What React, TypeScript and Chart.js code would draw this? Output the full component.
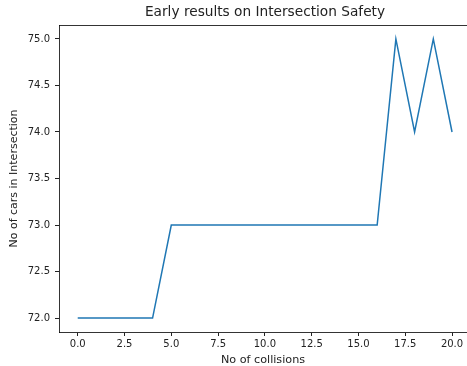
import React, { useEffect, useRef } from "react";
import { Chart, registerables } from "chart.js";

Chart.register(...registerables);

const xValues = [0, 1, 2, 3, 4, 5, 6, 7, 8, 9, 10, 11, 12, 13, 14, 15, 16, 17, 18, 19, 20];
const yValues = [72, 72, 72, 72, 72, 73, 73, 73, 73, 73, 73, 73, 73, 73, 73, 73, 73, 75, 74, 75, 74];
const xTicks = [0, 2.5, 5, 7.5, 10, 12.5, 15, 17.5, 20];
const yTicks = [72, 72.5, 73, 73.5, 74, 74.5, 75];
const titleText = "Early results on Intersection Safety";
const xLabel = "No of collisions";
const yLabel = "No of cars in Intersection";

const FONT = "'DejaVu Sans', sans-serif";

export default function App() {
  const ref = useRef<HTMLCanvasElement>(null);
  useEffect(() => {
    document.body.style.margin = "0";
    document.body.style.overflow = "hidden";
    const framePlugin = {
      id: "frame",
      afterDraw(chart: any) {
        const { ctx, chartArea } = chart;
        ctx.save();
        ctx.strokeStyle = "#000";
        ctx.lineWidth = 0.8;
        ctx.beginPath();
        ctx.moveTo(chartArea.left, chartArea.top + 0.5);
        ctx.lineTo(chartArea.right, chartArea.top + 0.5);
        ctx.stroke();
        ctx.fillStyle = "#222";
        ctx.font = `13.7px ${FONT}`;
        ctx.textAlign = "center";
        ctx.textBaseline = "middle";
        ctx.fillText(titleText, (chartArea.left + 471) / 2, 12.5);
        ctx.restore();
      },
    };
    const chart = new Chart(ref.current!, {
      type: "line",
      data: {
        datasets: [
          {
            data: xValues.map((x, i) => ({ x, y: yValues[i] })),
            borderColor: "#1f77b4",
            borderWidth: 1.5,
            pointRadius: 0,
            tension: 0,
            fill: false,
          },
        ],
      },
      options: {
        animation: false,
        responsive: false,
        layout: { padding: { top: 25, right: 0, left: 0, bottom: 0 } },
        plugins: { legend: { display: false }, tooltip: { enabled: false } },
        scales: {
          x: {
            type: "linear",
            min: -1,
            max: 20.8,
            afterBuildTicks: (s: any) => {
              s.ticks = xTicks.map((v) => ({ value: v }));
            },
            afterFit: (s: any) => {
              s.height = 34;
            },
            grid: { drawOnChartArea: false, drawTicks: true, tickLength: 4, color: "#222" },
            border: { display: true, color: "#000", width: 0.8 },
            ticks: {
              color: "#222",
              font: { family: FONT, size: 10 },
              padding: 2,
              maxRotation: 0,
              autoSkip: false,
              callback: (v: any) => Number(v).toFixed(1),
            },
            title: {
              display: true,
              text: xLabel,
              color: "#222",
              font: { family: FONT, size: 11.2, lineHeight: 1 },
              padding: { top: 0, bottom: 0 },
            },
          },
          y: {
            type: "linear",
            min: 71.85,
            max: 75.15,
            afterBuildTicks: (s: any) => {
              s.ticks = yTicks.map((v) => ({ value: v }));
            },
            afterFit: (s: any) => {
              s.width = 59;
            },
            grid: { drawOnChartArea: false, drawTicks: true, tickLength: 4, color: "#222" },
            border: { display: true, color: "#000", width: 0.8 },
            ticks: {
              color: "#222",
              font: { family: FONT, size: 10 },
              padding: 5,
              autoSkip: false,
              callback: (v: any) => Number(v).toFixed(1),
            },
            title: {
              display: true,
              text: yLabel,
              color: "#222",
              font: { family: FONT, size: 11, lineHeight: 1 },
              padding: { top: 9, bottom: 0 },
            },
          },
        },
      },
      plugins: [framePlugin],
    });
    return () => chart.destroy();
  }, []);
  return (
    <div style={{ position: "absolute", left: 0, top: 0, width: 467, height: 366 }}>
      <canvas ref={ref} width={467} height={366} style={{ width: 467, height: 366 }} />
    </div>
  );
}
